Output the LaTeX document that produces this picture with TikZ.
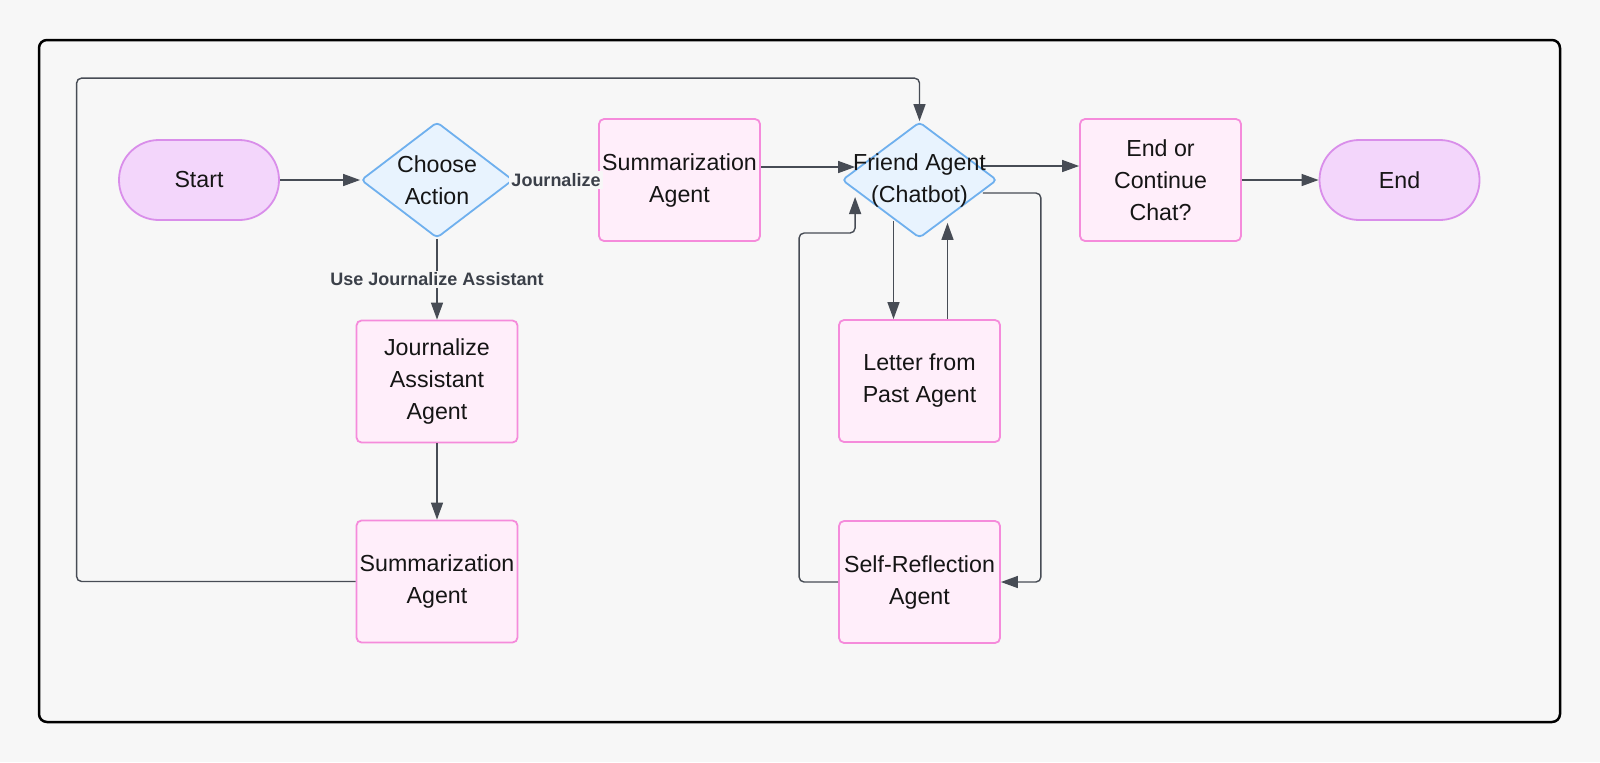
\documentclass[tikz,border=0pt]{standalone}
\usepackage{fontspec}
\setmainfont{Liberation Sans}
\usepackage{tikz}
\usetikzlibrary{shapes.geometric, arrows.meta}
\definecolor{bgC}{HTML}{F7F7F7}
\definecolor{termFill}{HTML}{F3D6FB}
\definecolor{termLine}{HTML}{D98EEA}
\definecolor{boxFill}{HTML}{FFEEFA}
\definecolor{boxLine}{HTML}{F58BDB}
\definecolor{decFill}{HTML}{E8F3FE}
\definecolor{decLine}{HTML}{6FB0EE}
\definecolor{edgeC}{HTML}{474C55}
\definecolor{lblC}{HTML}{3B4049}
\definecolor{txtC}{HTML}{151515}
\newcommand\nodefont{\fontsize{11.6}{16}\selectfont}

\begin{document}
\begin{tikzpicture}[
  x=0.5pt, y=-0.5pt,
  term/.style={draw=termLine, fill=termFill, line width=0.9pt,
               rounded corners=19.9pt, minimum width=80pt, minimum height=40pt,
               font=\nodefont, text=txtC},
  agent/.style={draw=boxLine, fill=boxFill, line width=0.9pt,
                rounded corners=2.5pt, minimum width=80.5pt,
                minimum height=61pt, align=center, inner sep=0pt,
                font=\nodefont, text=txtC},
  choice/.style={diamond, draw=decLine, fill=decFill, line width=0.9pt,
                 rounded corners=2pt, inner sep=0pt, minimum width=76pt,
                 minimum height=58pt},
  dtext/.style={align=center, font=\nodefont, text=txtC, inner sep=0pt},
  flow/.style={-{Triangle[length=8.5pt,width=6pt]}, edgeC, line width=0.7pt},
  back/.style={flow, rounded corners=2.5pt},
  elabel/.style={font=\bfseries\fontsize{9}{11}\selectfont, text=lblC,
                 fill=bgC, inner sep=1pt},
]

% =========================================================================
% Canvas: 1600 x 762 units of half a point, y running downwards
% =========================================================================
\fill[bgC] (0,0) rectangle (1600,762);
\useasboundingbox (0,0) rectangle (1600,762);
\draw[line width=1.25pt, rounded corners=4pt] (39,40) rectangle (1560,722);

% ---- main row ------------------------------------------------------------
\node[term] (start) at (199,180) {Start};
\node[choice, label={[dtext]center:{Choose\\Action}}] (choose) at (437,180) {};
\node[agent] (summ1) at (679.5,180) {Summarization\\Agent};
\node[choice, minimum width=77.5pt,
      label={[dtext]center:{Friend Agent\\(Chatbot)}}] (friend) at (919.5,180) {};
\node[agent] (endc) at (1160.5,180) {End or\\Continue\\Chat?};
\node[term] (fin) at (1399.5,180) {End};

% ---- journalize branch and friend helpers --------------------------------
\node[agent] (jassist) at (437,381.5) {Journalize\\Assistant\\Agent};
\node[agent] (summ2) at (437,581.5) {Summarization\\Agent};
\node[agent] (letter) at (919.5,381) {Letter from\\Past Agent};
\node[agent] (self) at (919.5,582) {Self-Reflection\\Agent};

% =========================================================================
% Connectors
% =========================================================================
\draw[flow] (start) -- (choose);
\draw[flow] (choose) -- node[elabel] {Journalize} (summ1);
\draw[flow] (choose) -- node[elabel] {Use Journalize Assistant} (jassist);
\draw[flow] (jassist) -- (summ2);
\draw[back] (summ2.west) -- ++(-139.5pt,0) |- ([yshift=21.5pt]friend.north)
  -- (friend.north);
\draw[flow] ([yshift=6.5pt]summ1.east) -- ([xshift=7pt,yshift=6.5pt]friend.west);
\draw[flow] ([xshift=-7.5pt,yshift=7pt]friend.east) -- ([yshift=7pt]endc.west);
\draw[flow] (endc) -- (fin);

% friend agent <-> letter, and the self-reflection round trip
\draw[flow] ([xshift=-13pt,yshift=9pt]friend.south) -- ([xshift=-13pt]letter.north);
\draw[flow] ([xshift=14pt]letter.north) -- ([xshift=14pt,yshift=8pt]friend.south);
\draw[back] ([xshift=-7.5pt,yshift=-6.5pt]friend.east) -- ++(29pt,0) |- (self.east);
\draw[back] (self.west) -- ++(-19.5pt,0) |- ([xshift=7pt,yshift=-26.5pt]friend.west)
  -- ([xshift=7pt,yshift=-8.5pt]friend.west);

\end{tikzpicture}
\end{document}
